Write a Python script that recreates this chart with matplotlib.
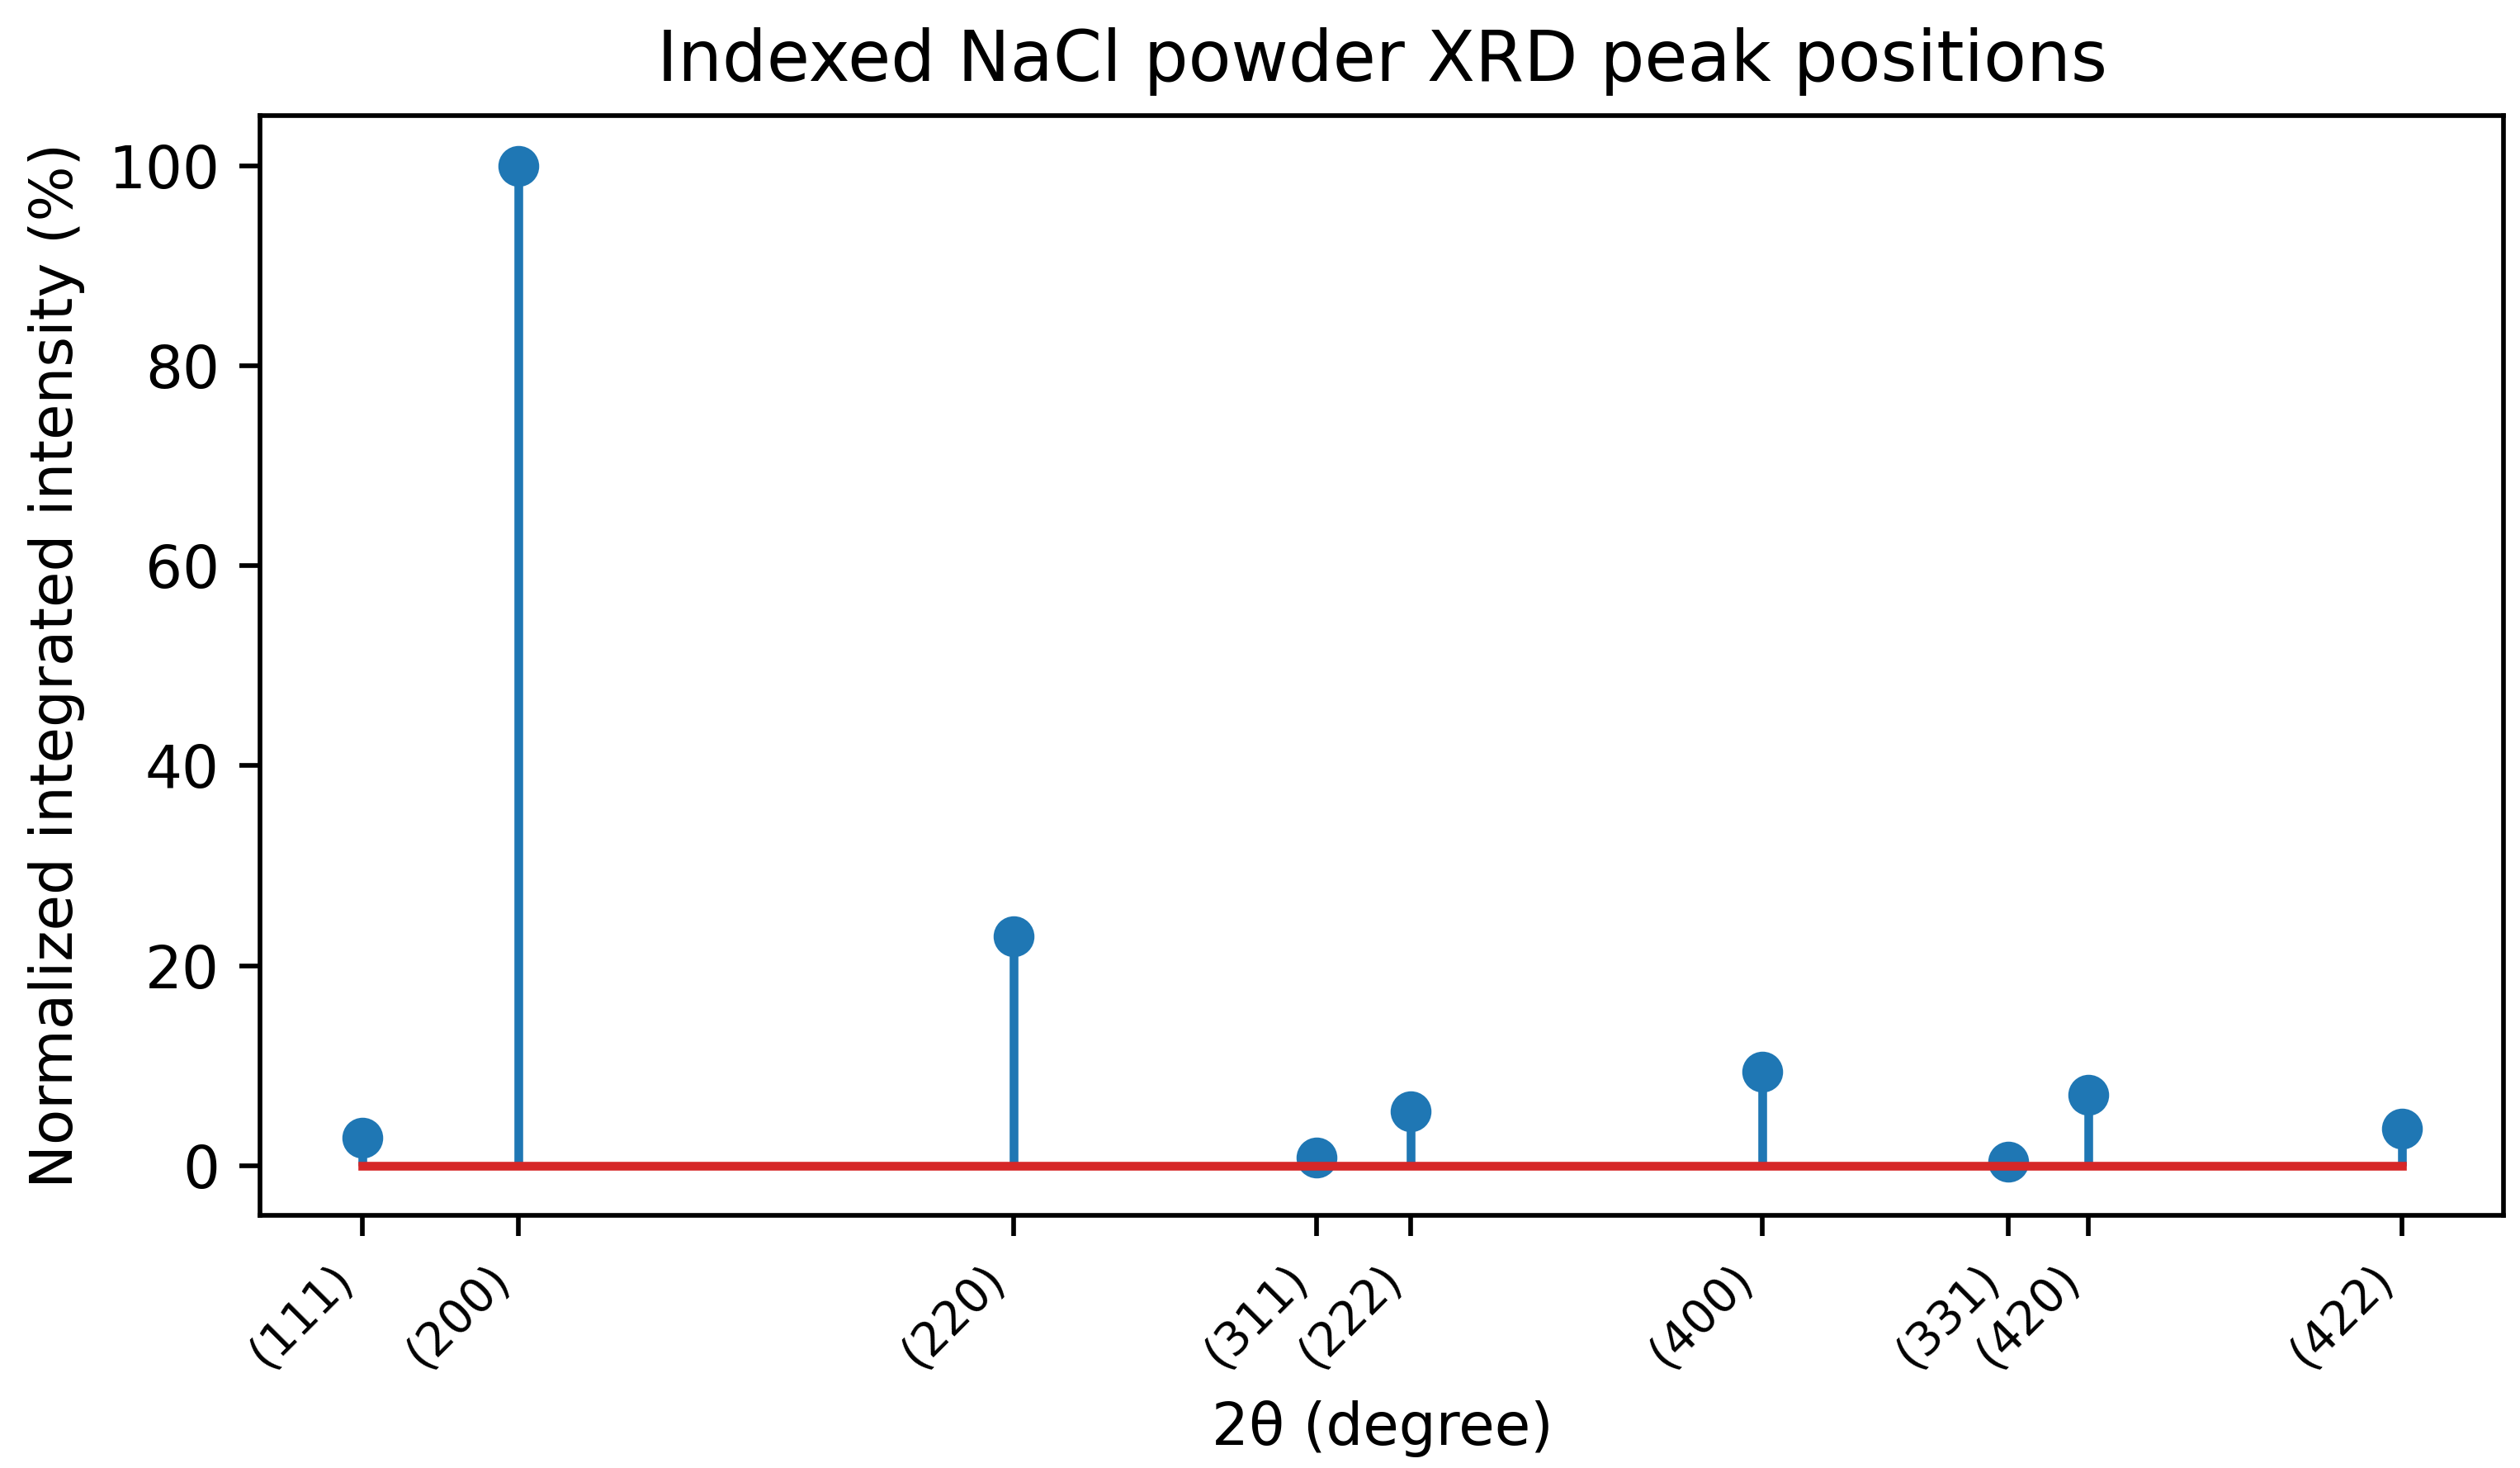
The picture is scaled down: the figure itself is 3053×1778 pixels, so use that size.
import matplotlib
matplotlib.use("Agg")
import matplotlib.pyplot as plt

hkl = ["(111)", "(200)", "(220)", "(311)", "(222)", "(400)", "(331)", "(420)", "(422)"]
two_theta = [27.37, 31.70, 45.45, 53.87, 56.47, 66.23, 73.07, 75.29, 84.00]
intensity = [2.8, 100.0, 22.9, 0.8, 5.4, 9.4, 0.4, 7.1, 3.7]

DPI = 509
fig = plt.figure(figsize=(3053/DPI, 1778/DPI), dpi=DPI)
ax = fig.add_axes([0.1033, 0.172, 0.8903, 0.749])
ml, sl, bl = ax.stem(two_theta, intensity)
bl.set_color("C3")
ax.set_xticks(two_theta)
ax.set_xticklabels(hkl, rotation=45, ha="right", fontsize=8)
ax.set_xlabel("2θ (degree)")
ax.set_ylabel("Normalized integrated intensity (%)")
ax.set_title("Indexed NaCl powder XRD peak positions")
fig.savefig("out.png", dpi=DPI)
